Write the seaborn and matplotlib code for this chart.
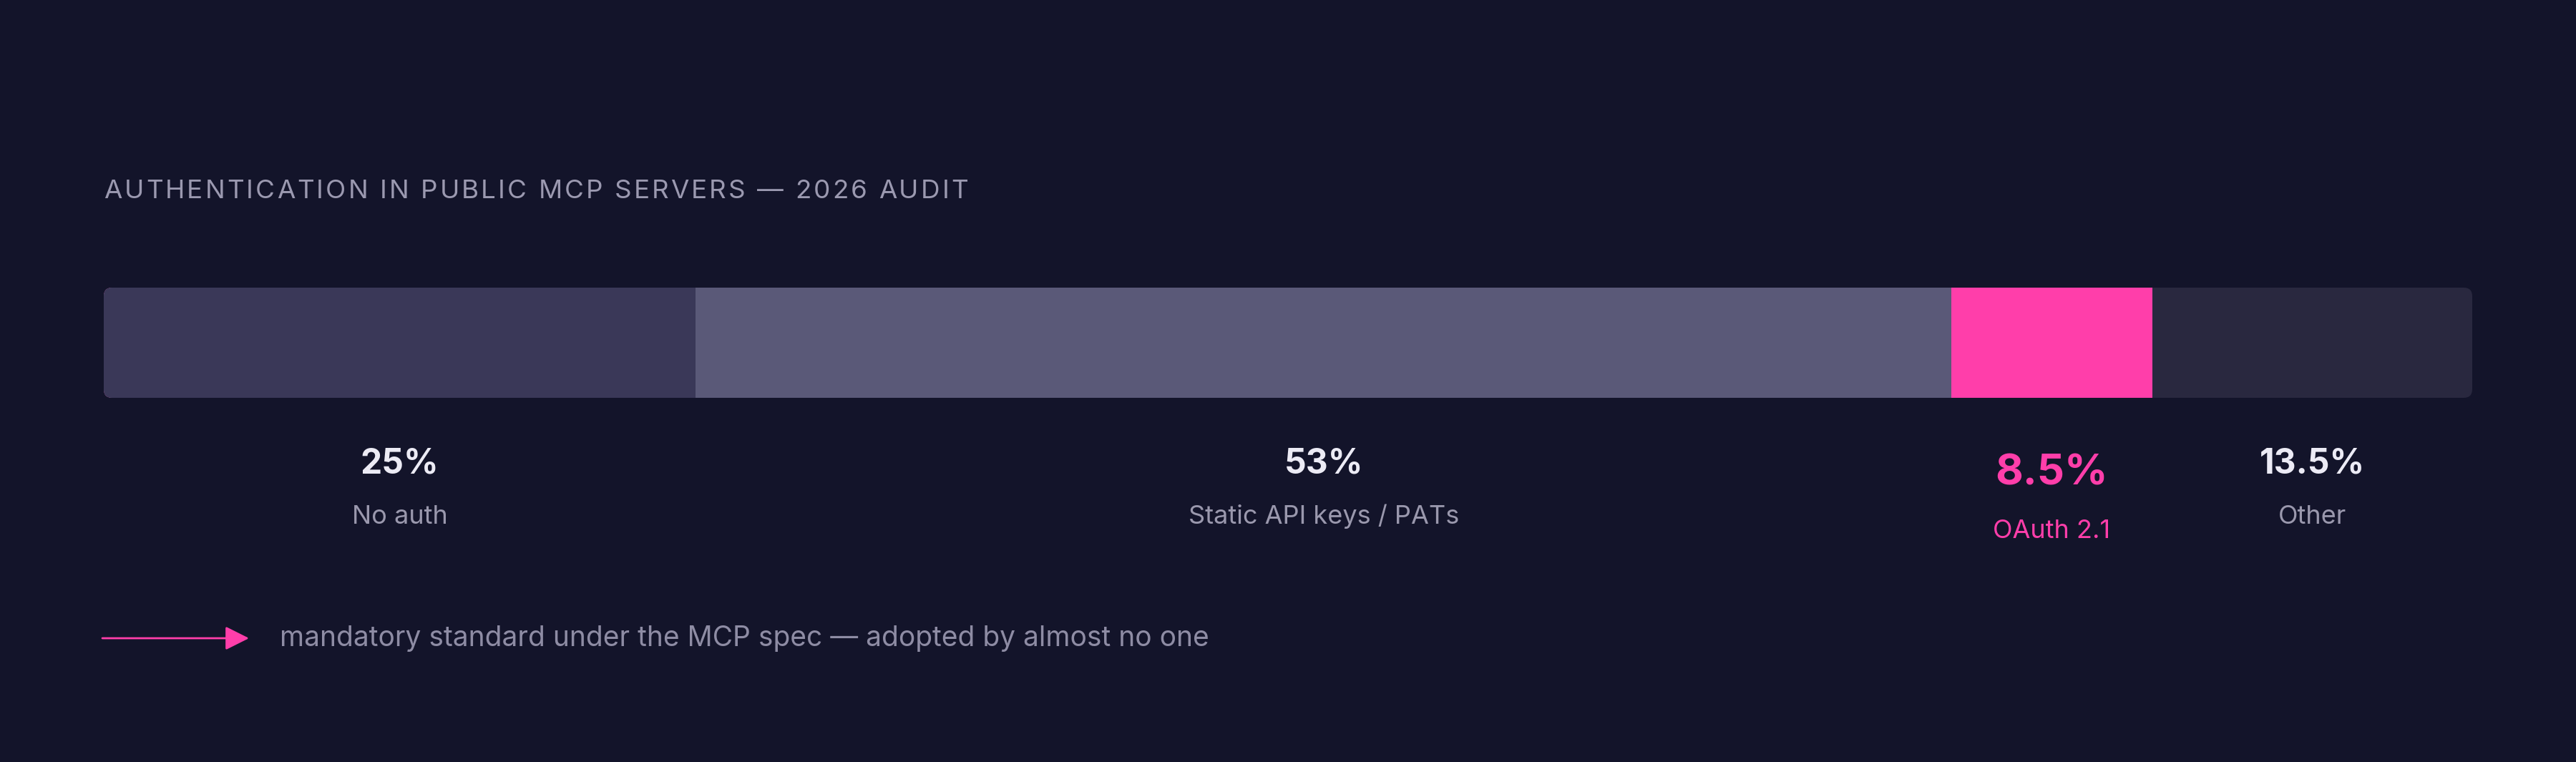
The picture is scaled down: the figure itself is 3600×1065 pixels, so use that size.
import numpy as np
import pandas as pd
import matplotlib
matplotlib.use("Agg")
import matplotlib.pyplot as plt
import matplotlib.patches as mpatches
from matplotlib.transforms import IdentityTransform, blended_transform_factory
import seaborn as sns

# data
categories = ['No auth', 'Static API keys / PATs', 'OAuth 2.1', 'Other']
shares = [25, 53, 8.5, 13.5]
value_labels = ['25%', '53%', '8.5%', '13.5%']
seg_colors = ['#3a3858', '#5a5978', '#ff3eaa', '#29283f']
title = 'AUTHENTICATION IN PUBLIC MCP SERVERS \u2014 2026 AUDIT'
note = 'mandatory standard under the MCP spec \u2014 adopted by almost no one'
highlight = 'OAuth 2.1'

BG = '#13142a'
PINK = '#ff3eaa'
W, H = 3600, 1065

sns.set_theme(style='white')
plt.rcParams['font.family'] = ['Inter', 'DejaVu Sans']

fig = plt.figure(figsize=(W / 100, H / 100), dpi=100, facecolor=BG)

# bar region in pixels (from top)
bx0, bx1, by0, by1 = 145, 3455, 402, 556
ax = fig.add_axes([bx0 / W, 1 - by1 / H, (bx1 - bx0) / W, (by1 - by0) / H])
ax.set_facecolor(BG)

df = pd.DataFrame({'cat': categories, 'share': shares, 'color': seg_colors})
df['cum'] = df['share'].cumsum()
df['mid'] = df['cum'] - df['share'] / 2

# stacked bar: draw cumulative totals back to front
for _, row in df.iloc[::-1].iterrows():
    sns.barplot(x=[row['cum']], y=['all'], orient='h', color=row['color'],
                width=1.0, linewidth=0, saturation=1, ax=ax)

ax.set_xlim(0, 100)
ax.set_ylim(0.5, -0.5)
ax.axis('off')

clip = mpatches.FancyBboxPatch((bx0, H - by1), bx1 - bx0, by1 - by0,
                               boxstyle='round,pad=0,rounding_size=12',
                               transform=IdentityTransform())
for p in ax.patches:
    p.set_clip_path(clip)


def fy(y):
    return 1 - y / H


tr = blended_transform_factory(ax.transData, fig.transFigure)
for _, row in df.iterrows():
    i = categories.index(row['cat'])
    hot = row['cat'] == highlight
    fig.text(row['mid'], fy(678 if hot else 662), value_labels[i], transform=tr,
             ha='center', va='baseline', fontsize=43 if hot else 34.5,
             fontweight='bold', color=PINK if hot else '#ecebf5')
    fig.text(row['mid'], fy(752 if hot else 732), row['cat'], transform=tr,
             ha='center', va='baseline', fontsize=26,
             color=PINK if hot else '#9a98ad')

# letter-spaced title, placed char by char
renderer = fig.canvas.get_renderer()
t_size = 26.5
probe = fig.text(0, 0, '', fontsize=t_size)


def text_w(s):
    probe.set_text(s)
    return probe.get_window_extent(renderer).width


natural = text_w(title)
target = 1353 - 145
track = (target - natural) / (len(title) - 1)
for i, ch in enumerate(title):
    if ch == ' ':
        continue
    left = text_w(title[:i + 1]) - text_w(ch) + i * track
    fig.text((145 + left) / W, fy(277), ch, fontsize=t_size,
             color='#9b99b0', ha='left', va='baseline')
probe.remove()

# footnote arrow + text
fig.add_artist(mpatches.FancyArrowPatch((143 / W, fy(892)), (348 / W, fy(892)),
                                        transform=fig.transFigure,
                                        arrowstyle='-|>,head_length=1.2,head_width=0.6',
                                        mutation_scale=17, color=PINK, lw=2,
                                        shrinkA=0, shrinkB=0))
fig.text(391 / W, fy(903), note, fontsize=28, color='#8e8ca4',
         ha='left', va='baseline')

fig.savefig('out.png', dpi=100, facecolor=BG)
